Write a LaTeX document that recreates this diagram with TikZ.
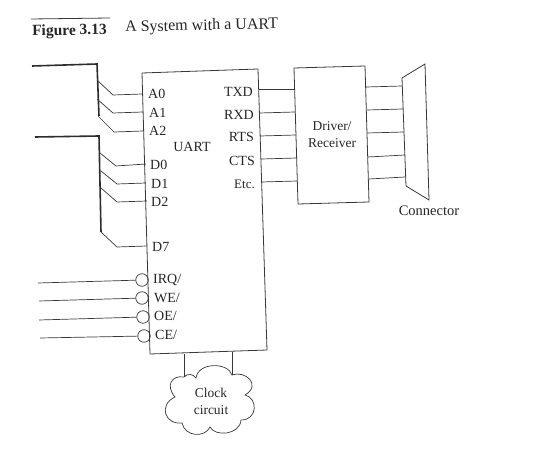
\documentclass[tikz,border=0pt]{standalone}
\usepackage{fontspec}
\setmainfont{Liberation Serif}
\definecolor{ink}{gray}{0.22}
\tikzset{
  wire/.style={draw=ink,line width=0.7pt},
  bus/.style={draw=ink!80!black,line width=1.6pt},
  box/.style={draw=ink,line width=0.8pt},
  lab/.style={font=\fontsize{14}{17}\selectfont,text=black!85,inner sep=0pt},
  lableft/.style={lab,anchor=west},
  labright/.style={lab,anchor=east},
  bubble/.style={circle,draw=ink,line width=0.7pt,minimum size=12.5pt,inner sep=0pt}
}
\begin{document}
\begin{tikzpicture}[x=1pt,y=-1pt]
\useasboundingbox (0,0) rectangle (546,462);
% title
\coordinate (ruleA) at (31,19); \coordinate (ruleB) at (110,18);
\draw[draw=ink,line width=0.8pt] (ruleA) -- (ruleB);
\node[lableft,font=\fontsize{15.5}{18}\bfseries\selectfont,rotate=1] (figno) at (32,32) {Figure 3.13};
\node[lableft,font=\fontsize{16}{18}\selectfont,rotate=1.2] (figtitle) at (125,28) {A System with a UART};
% UART
\coordinate (u1) at (142,73); \coordinate (u2) at (258,69); \coordinate (u3) at (267,350); \coordinate (u4) at (150,354);
\draw[box] (u1) -- (u2) -- (u3) -- (u4) -- cycle;
\node[lab] (uart) at (192,147) {UART};
% Address bus
\coordinate (b1a) at (32,66); \coordinate (b1b) at (97,64); \coordinate (b1c) at (99,116);
\draw[bus,line join=miter] (b1a) -- (b1b) -- (b1c);
\node[lableft] (A0) at (148,94) {A0};
\node[lableft] (A1) at (149,113) {A1};
\node[lableft] (A2) at (149,131) {A2};
\coordinate (a0s) at (97,80); \coordinate (a0k) at (113,95); \coordinate (a0e) at (142,94);
\coordinate (a1s) at (97,99); \coordinate (a1k) at (113,113); \coordinate (a1e) at (143,112);
\coordinate (a2s) at (98,116); \coordinate (a2k) at (114,132); \coordinate (a2e) at (143,131);
\draw[wire] (a0s) -- (a0k) -- (a0e);
\draw[wire] (a1s) -- (a1k) -- (a1e);
\draw[wire] (a2s) -- (a2k) -- (a2e);
% Data bus
\coordinate (b2a) at (35,137); \coordinate (b2b) at (99,136); \coordinate (b2c) at (101,232);
\draw[bus,line join=miter] (b2a) -- (b2b) -- (b2c);
\node[lableft] (D0) at (150,165) {D0};
\node[lableft] (D1) at (151,184) {D1};
\node[lableft] (D2) at (151,202) {D2};
\node[lableft] (D7) at (152,247) {D7};
\coordinate (d0s) at (100,153); \coordinate (d0k) at (116,166); \coordinate (d0e) at (146,164);
\coordinate (d1s) at (101,171); \coordinate (d1k) at (117,184); \coordinate (d1e) at (146,183);
\coordinate (d2s) at (101,188); \coordinate (d2k) at (117,202); \coordinate (d2e) at (147,201);
\coordinate (d7s) at (101,232); \coordinate (d7k) at (117,247); \coordinate (d7e) at (147,246);
\draw[wire] (d0s) -- (d0k) -- (d0e);
\draw[wire] (d1s) -- (d1k) -- (d1e);
\draw[wire] (d2s) -- (d2k) -- (d2e);
\draw[wire] (d7s) -- (d7k) -- (d7e);
% Control inputs
\node[bubble] (cI) at (142,280) {};
\node[bubble] (cW) at (142,298) {};
\node[bubble] (cO) at (143,317) {};
\node[bubble] (cC) at (144,336) {};
\coordinate (iI) at (38,283); \coordinate (iW) at (39,301); \coordinate (iO) at (39,320); \coordinate (iC) at (40,338);
\draw[wire] (iI) -- (cI);
\draw[wire] (iW) -- (cW);
\draw[wire] (iO) -- (cO);
\draw[wire] (iC) -- (cC);
\node[lableft] (lI) at (153,280) {IRQ/};
\node[lableft] (lW) at (154,298) {WE/};
\node[lableft] (lO) at (154,316) {OE/};
\node[lableft] (lC) at (155,335) {CE/};
% right labels
\node[labright] (TXD) at (253,92) {TXD};
\node[labright] (RXD) at (254,115) {RXD};
\node[labright] (RTS) at (254,137) {RTS};
\node[labright] (CTS) at (255,161) {CTS};
\node[labright,font=\fontsize{13}{15}\selectfont] (Etc) at (255,184) {Etc.};
% Driver
\coordinate (r1) at (294,68); \coordinate (r2) at (365,66); \coordinate (r3) at (369,202); \coordinate (r4) at (298,204);
\draw[box] (r1) -- (r2) -- (r3) -- (r4) -- cycle;
\node[lab,align=center,font=\fontsize{13.5}{17}\selectfont] (drv) at (332,135) {Driver/\\Receiver};
\foreach \n/\xa/\ya/\xb/\yb in {1/259/89/295/89,2/259/113/295/112,3/260/136/296/135,4/261/159/297/158,5/261/182/297/181}
  \draw[wire] (\xa,\ya) -- (\xb,\yb);
% Connector
\coordinate (c1) at (402,78); \coordinate (c2) at (425,64); \coordinate (c3) at (429,200); \coordinate (c4) at (406,186);
\draw[box] (c1) -- (c2) -- (c3) -- (c4) -- cycle;
\foreach \n/\xa/\ya/\xb/\yb in {1/366/87/402/86,2/367/110/403/109,3/367/133/404/132,4/368/157/405/155,5/369/179/405/177}
  \draw[wire] (\xa,\ya) -- (\xb,\yb);
\node[lab,font=\fontsize{14.5}{17}\selectfont] (conn) at (429,211) {Connector};
% Clock
\coordinate (k1a) at (184,354); \coordinate (k1b) at (184,377);
\coordinate (k2a) at (232,352); \coordinate (k2b) at (232,375);
\draw[wire] (k1a) -- (k1b);
\draw[wire] (k2a) -- (k2b);
\draw[wire] (k1b) .. controls (188,373) and (193,374) .. (196,378)
  .. controls (198,362) and (228,362) .. (k2b)
  .. controls (245,370) and (262,385) .. (245,395)
  .. controls (258,398) and (258,420) .. (241,420)
  .. controls (240,435) and (215,437) .. (210,427)
  .. controls (205,438) and (185,437) .. (182,423)
  .. controls (165,425) and (158,405) .. (175,397)
  .. controls (165,385) and (172,375) .. (k1b) -- cycle;
\node[lab,align=center,font=\fontsize{13.5}{17}\selectfont] (clk) at (211,401) {Clock\\circuit};
\end{tikzpicture}
\end{document}
